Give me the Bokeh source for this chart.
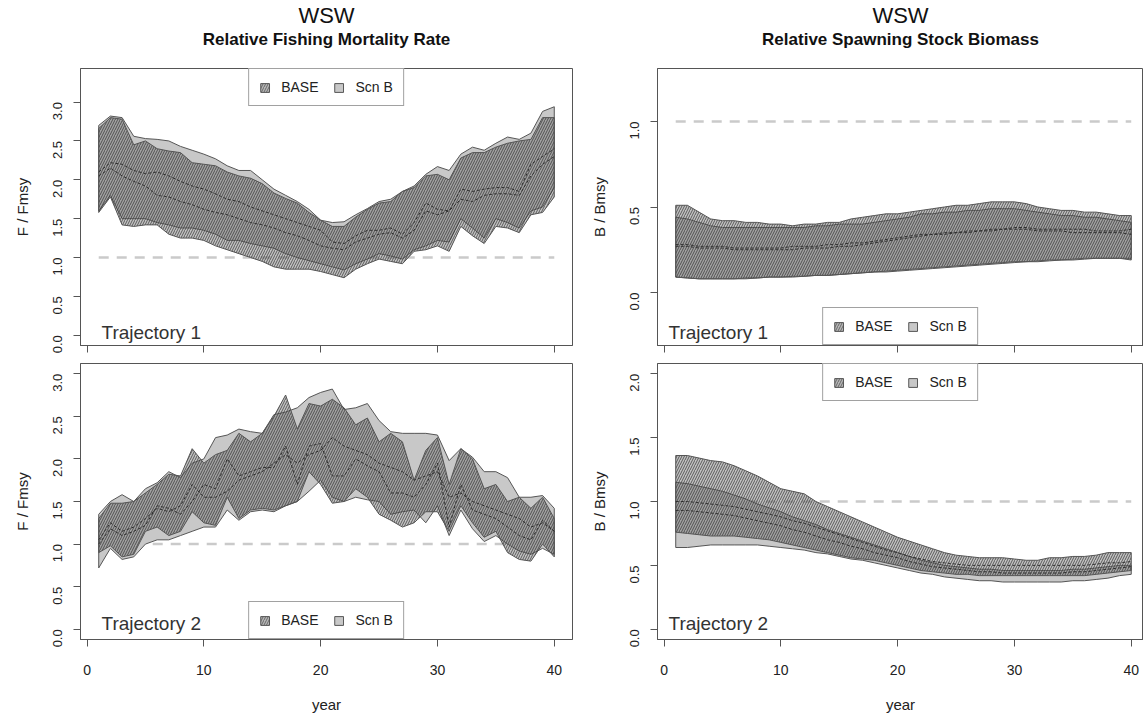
import numpy as np
from bokeh.plotting import figure
from bokeh.layouts import row, column
from bokeh.models import (Range1d, FixedTicker, Title, Label, Legend, LegendItem,
                          PrintfTickFormatter)
from bokeh.embed import file_html
from bokeh.resources import INLINE

years = list(range(1, 41))
x_ticks = [0, 10, 20, 30, 40]
ref_level = 1.0

# ---- Top-left: Relative Fishing Mortality Rate, Trajectory 1 ----
f1_scn_hi = [2.70, 2.82, 2.80, 2.56, 2.53, 2.52, 2.50, 2.43, 2.38, 2.33, 2.27, 2.18, 2.12, 2.12, 2.00, 1.88, 1.80, 1.72, 1.62, 1.48,
             1.45, 1.46, 1.55, 1.63, 1.72, 1.75, 1.85, 1.92, 2.07, 2.17, 2.12, 2.33, 2.42, 2.38, 2.47, 2.55, 2.52, 2.60, 2.88, 2.94]
f1_base_hi = [2.66, 2.80, 2.78, 2.45, 2.50, 2.40, 2.37, 2.35, 2.22, 2.20, 2.18, 2.10, 2.05, 2.02, 1.95, 1.83, 1.76, 1.70, 1.58, 1.48,
              1.40, 1.40, 1.52, 1.62, 1.70, 1.72, 1.85, 1.90, 2.05, 2.07, 2.00, 2.28, 2.35, 2.35, 2.42, 2.47, 2.50, 2.52, 2.80, 2.80]
f1_base_lo = [1.58, 1.78, 1.42, 1.40, 1.42, 1.42, 1.30, 1.25, 1.25, 1.22, 1.15, 1.10, 1.05, 1.00, 0.95, 0.88, 0.85, 0.85, 0.85, 0.82,
              0.78, 0.74, 0.85, 0.92, 0.98, 0.95, 0.92, 1.08, 1.10, 1.15, 1.08, 1.40, 1.28, 1.18, 1.40, 1.38, 1.32, 1.55, 1.58, 1.78]
f1_scn_lo = [1.60, 1.80, 1.50, 1.50, 1.50, 1.45, 1.42, 1.38, 1.38, 1.35, 1.30, 1.22, 1.22, 1.18, 1.15, 1.12, 1.05, 1.00, 0.96, 0.92,
             0.88, 0.84, 0.92, 0.98, 1.05, 1.02, 0.98, 1.10, 1.15, 1.22, 1.20, 1.50, 1.38, 1.25, 1.50, 1.45, 1.38, 1.60, 1.65, 1.90]
f1_base_med = [2.10, 2.22, 2.20, 2.12, 2.08, 2.10, 2.05, 1.98, 1.92, 1.88, 1.82, 1.75, 1.72, 1.65, 1.60, 1.55, 1.50, 1.45, 1.40, 1.35,
               1.20, 1.18, 1.28, 1.35, 1.35, 1.38, 1.30, 1.45, 1.70, 1.62, 1.60, 1.88, 1.85, 1.88, 1.90, 1.90, 1.85, 2.20, 2.30, 2.40]
f1_scn_med = [2.05, 2.15, 2.05, 1.98, 1.92, 1.80, 1.78, 1.72, 1.68, 1.62, 1.58, 1.55, 1.50, 1.45, 1.42, 1.38, 1.32, 1.28, 1.22, 1.15,
              1.12, 1.10, 1.20, 1.25, 1.30, 1.32, 1.25, 1.35, 1.60, 1.55, 1.60, 1.75, 1.72, 1.80, 1.82, 1.82, 1.80, 2.05, 2.20, 2.30]

# ---- Bottom-left: Relative Fishing Mortality Rate, Trajectory 2 ----
f2_scn_hi = [1.35, 1.50, 1.58, 1.50, 1.65, 1.72, 1.85, 1.78, 1.95, 2.00, 2.25, 2.28, 2.35, 2.32, 2.30, 2.52, 2.55, 2.60, 2.72, 2.78,
             2.82, 2.58, 2.60, 2.65, 2.45, 2.32, 2.30, 2.30, 2.30, 2.28, 1.98, 2.12, 2.02, 1.85, 1.85, 1.78, 1.55, 1.55, 1.57, 1.42]
f2_base_hi = [1.30, 1.48, 1.48, 1.50, 1.60, 1.70, 1.82, 1.80, 2.12, 1.95, 2.05, 2.10, 2.30, 2.20, 2.30, 2.50, 2.75, 2.35, 2.65, 2.62,
              2.70, 2.60, 2.40, 2.48, 2.20, 2.30, 2.20, 1.75, 2.10, 2.25, 1.70, 2.12, 2.00, 1.65, 1.70, 1.50, 1.55, 1.42, 1.55, 1.30]
f2_scn_lo = [0.72, 0.95, 0.82, 0.85, 1.00, 1.05, 1.05, 1.10, 1.15, 1.20, 1.20, 1.40, 1.28, 1.38, 1.40, 1.38, 1.45, 1.50, 1.62, 1.75,
             1.55, 1.50, 1.55, 1.52, 1.50, 1.35, 1.38, 1.40, 1.25, 1.45, 1.10, 1.40, 1.18, 1.03, 1.10, 1.00, 0.92, 0.88, 0.95, 0.88]
f2_base_lo = [0.90, 0.98, 0.85, 0.88, 1.15, 1.20, 1.10, 1.15, 1.38, 1.25, 1.22, 1.55, 1.30, 1.40, 1.42, 1.40, 1.45, 1.50, 1.85, 1.70,
              1.48, 1.50, 1.65, 1.55, 1.35, 1.28, 1.20, 1.25, 1.38, 1.38, 1.15, 1.45, 1.25, 1.08, 1.15, 0.90, 0.82, 0.80, 1.00, 0.85]
f2_base_med = [1.05, 1.25, 1.15, 1.20, 1.30, 1.42, 1.38, 1.45, 1.70, 1.55, 1.55, 1.62, 1.75, 1.80, 1.85, 1.95, 2.05, 1.95, 2.05, 2.10,
               2.25, 2.15, 2.10, 2.05, 1.95, 1.90, 1.85, 1.75, 1.80, 1.85, 1.55, 1.60, 1.50, 1.45, 1.40, 1.35, 1.30, 1.20, 1.25, 1.15]
f2_scn_med = [1.00, 1.18, 1.10, 1.15, 1.22, 1.45, 1.42, 1.35, 1.50, 1.70, 1.65, 2.00, 1.80, 1.85, 1.90, 1.90, 2.15, 1.70, 2.15, 2.18,
              1.80, 1.80, 2.00, 1.92, 1.85, 1.60, 1.60, 1.55, 1.70, 1.95, 1.20, 1.70, 1.40, 1.35, 1.30, 1.20, 1.10, 1.05, 1.28, 1.15]

# ---- Top-right: Relative Spawning Stock Biomass, Trajectory 1 ----
b1_base_hi = [0.51, 0.51, 0.47, 0.43, 0.42, 0.42, 0.41, 0.41, 0.40, 0.40, 0.39, 0.40, 0.40, 0.41, 0.41, 0.43, 0.44, 0.45, 0.46, 0.46,
              0.47, 0.48, 0.49, 0.50, 0.51, 0.51, 0.52, 0.53, 0.53, 0.53, 0.52, 0.50, 0.49, 0.48, 0.48, 0.47, 0.47, 0.46, 0.45, 0.45]
b1_scn_hi = [0.44, 0.43, 0.41, 0.39, 0.38, 0.38, 0.38, 0.38, 0.38, 0.38, 0.38, 0.38, 0.39, 0.39, 0.40, 0.40, 0.40, 0.41, 0.42, 0.43,
             0.44, 0.46, 0.46, 0.47, 0.47, 0.48, 0.48, 0.49, 0.49, 0.49, 0.48, 0.47, 0.46, 0.45, 0.45, 0.44, 0.44, 0.43, 0.42, 0.41]
b1_base_lo = [0.09, 0.085, 0.08, 0.08, 0.08, 0.08, 0.08, 0.085, 0.09, 0.09, 0.09, 0.095, 0.10, 0.10, 0.105, 0.11, 0.115, 0.12, 0.125, 0.13,
              0.135, 0.14, 0.145, 0.15, 0.155, 0.16, 0.165, 0.17, 0.175, 0.18, 0.18, 0.185, 0.19, 0.19, 0.195, 0.20, 0.20, 0.20, 0.20, 0.19]
b1_scn_lo = [0.09, 0.085, 0.08, 0.08, 0.08, 0.08, 0.085, 0.085, 0.09, 0.09, 0.095, 0.095, 0.10, 0.10, 0.105, 0.11, 0.115, 0.12, 0.12, 0.125,
             0.13, 0.135, 0.14, 0.145, 0.15, 0.155, 0.16, 0.165, 0.17, 0.175, 0.18, 0.18, 0.185, 0.19, 0.19, 0.195, 0.20, 0.20, 0.20, 0.20]
b1_base_med = [0.28, 0.28, 0.27, 0.27, 0.27, 0.26, 0.26, 0.26, 0.26, 0.26, 0.27, 0.27, 0.27, 0.28, 0.28, 0.29, 0.29, 0.30, 0.31, 0.32,
               0.33, 0.34, 0.34, 0.35, 0.35, 0.36, 0.36, 0.37, 0.37, 0.38, 0.38, 0.37, 0.37, 0.37, 0.37, 0.37, 0.36, 0.36, 0.36, 0.37]
b1_scn_med = [0.27, 0.27, 0.26, 0.26, 0.26, 0.25, 0.25, 0.25, 0.25, 0.25, 0.25, 0.26, 0.26, 0.26, 0.27, 0.27, 0.28, 0.29, 0.30, 0.31,
              0.32, 0.33, 0.34, 0.34, 0.35, 0.35, 0.36, 0.36, 0.37, 0.37, 0.37, 0.36, 0.36, 0.36, 0.35, 0.35, 0.35, 0.35, 0.35, 0.34]

# ---- Bottom-right: Relative Spawning Stock Biomass, Trajectory 2 ----
b2_base_hi = [1.36, 1.36, 1.34, 1.32, 1.31, 1.28, 1.24, 1.20, 1.15, 1.10, 1.08, 1.06, 1.00, 0.96, 0.92, 0.88, 0.84, 0.80, 0.76, 0.72,
              0.69, 0.66, 0.63, 0.60, 0.58, 0.57, 0.56, 0.56, 0.56, 0.55, 0.54, 0.54, 0.56, 0.56, 0.57, 0.57, 0.58, 0.60, 0.60, 0.60]
b2_scn_hi = [1.15, 1.14, 1.12, 1.10, 1.08, 1.05, 1.02, 0.98, 0.95, 0.92, 0.88, 0.85, 0.82, 0.78, 0.75, 0.72, 0.69, 0.66, 0.63, 0.60,
             0.57, 0.54, 0.52, 0.50, 0.49, 0.48, 0.47, 0.47, 0.46, 0.46, 0.46, 0.46, 0.46, 0.46, 0.47, 0.47, 0.48, 0.49, 0.50, 0.50]
b2_base_lo = [0.76, 0.75, 0.74, 0.73, 0.73, 0.73, 0.72, 0.71, 0.70, 0.68, 0.66, 0.64, 0.62, 0.60, 0.58, 0.56, 0.55, 0.54, 0.52, 0.50,
              0.48, 0.46, 0.45, 0.44, 0.43, 0.43, 0.42, 0.42, 0.42, 0.42, 0.42, 0.42, 0.42, 0.42, 0.42, 0.42, 0.43, 0.44, 0.45, 0.46]
b2_scn_lo = [0.64, 0.64, 0.65, 0.66, 0.66, 0.66, 0.66, 0.66, 0.65, 0.64, 0.63, 0.62, 0.60, 0.59, 0.57, 0.55, 0.54, 0.52, 0.50, 0.48,
             0.46, 0.44, 0.43, 0.41, 0.40, 0.39, 0.38, 0.38, 0.37, 0.37, 0.37, 0.37, 0.37, 0.37, 0.38, 0.38, 0.39, 0.40, 0.42, 0.43]
b2_base_med = [1.00, 1.00, 0.99, 0.98, 0.97, 0.96, 0.94, 0.92, 0.90, 0.88, 0.85, 0.83, 0.80, 0.77, 0.74, 0.71, 0.68, 0.65, 0.62, 0.60,
               0.57, 0.55, 0.53, 0.52, 0.51, 0.50, 0.50, 0.50, 0.50, 0.50, 0.50, 0.50, 0.50, 0.50, 0.50, 0.50, 0.51, 0.52, 0.52, 0.53]
b2_scn_med = [0.93, 0.93, 0.92, 0.91, 0.90, 0.89, 0.87, 0.85, 0.83, 0.81, 0.78, 0.76, 0.73, 0.70, 0.68, 0.65, 0.63, 0.60, 0.58, 0.56,
              0.53, 0.51, 0.49, 0.48, 0.47, 0.46, 0.45, 0.45, 0.44, 0.44, 0.44, 0.44, 0.44, 0.44, 0.45, 0.45, 0.46, 0.47, 0.48, 0.49]

FONT = "Liberation Sans"
EDGE = "#555555"


def panel(fw, fh, mb, yr, yticks, xr, data, traj, traj_off, leg_loc, ylab, bottom, titles):
    base_lo, base_hi, base_med, scn_lo, scn_hi, scn_med = data
    p = figure(frame_width=fw, frame_height=fh, x_range=Range1d(*xr), y_range=Range1d(*yr),
               output_backend="svg", toolbar_location=None, title=None,
               min_border_left=mb[0], min_border_right=mb[1], min_border_top=mb[2], min_border_bottom=mb[3])
    p.xgrid.visible = False
    p.ygrid.visible = False
    p.outline_line_color = EDGE
    p.outline_line_width = 1
    p.background_fill_color = "white"
    p.border_fill_color = "white"

    # reference line
    p.line([years[0], years[-1]], [ref_level, ref_level], line_color="#cacaca", line_width=2.5, line_dash="10 8")

    xs = years + years[::-1]
    scn = p.patch(xs, scn_hi + scn_lo[::-1], fill_color="#c8c8c8", line_color=EDGE, line_width=1)
    base = p.patch(xs, base_hi + base_lo[::-1], fill_color="#6e6e6e", fill_alpha=0.42,
                   hatch_pattern="/", hatch_color="#2e2e2e", hatch_alpha=0.7, hatch_scale=5, hatch_weight=1,
                   line_color=EDGE, line_width=1)
    p.line(years, base_med, line_color="#303030", line_width=1, line_dash="3 2")
    p.line(years, scn_med, line_color="#303030", line_width=1, line_dash="3 2")

    # axes
    for ax in (p.xaxis[0], p.yaxis[0]):
        ax.axis_line_color = EDGE
        ax.major_tick_line_color = EDGE
        ax.major_tick_out = 7
        ax.major_tick_in = 0
        ax.minor_tick_line_color = None
        ax.major_label_text_font = FONT
        ax.major_label_text_font_size = "13px"
        ax.major_label_text_color = "#222222"
        ax.axis_label_text_font = FONT
        ax.axis_label_text_font_size = "15px"
        ax.axis_label_text_font_style = "normal"
        ax.axis_label_text_color = "#222222"
    p.xaxis.ticker = FixedTicker(ticks=x_ticks)
    p.xaxis.formatter = PrintfTickFormatter(format="%d")
    p.yaxis.ticker = FixedTicker(ticks=yticks)
    p.yaxis.formatter = PrintfTickFormatter(format="%.1f")
    p.yaxis.major_label_orientation = np.pi / 2
    p.yaxis.major_label_standoff = 16
    p.yaxis.axis_label = ylab
    p.yaxis.axis_label_standoff = 15
    if bottom:
        p.xaxis.major_label_text_font_size = "14px"
        p.xaxis.major_label_standoff = 18
        p.xaxis.axis_label = "year"
        p.xaxis.axis_label_standoff = 18
    else:
        p.xaxis.major_label_text_font_size = "0px"
        p.xaxis.major_label_standoff = 0

    # trajectory label (bottom-left inside the frame)
    tx = xr[0] + (xr[1] - xr[0]) * traj_off[0] / fw
    ty = yr[0] + (yr[1] - yr[0]) * traj_off[1] / fh
    p.add_layout(Label(x=tx, y=ty, text=traj, text_font=FONT, text_font_size="19px",
                       text_color="#333333", text_baseline="middle", text_align="left"))

    leg = Legend(items=[LegendItem(label="BASE", renderers=[base]), LegendItem(label="Scn B", renderers=[scn])],
                 location=leg_loc, orientation="horizontal", margin=0, padding=10, spacing=15,
                 glyph_width=11, glyph_height=11, label_standoff=11,
                 label_text_font=FONT, label_text_font_size="14px", label_text_color="#222222",
                 border_line_color="#444444", border_line_width=1, background_fill_alpha=1)
    p.add_layout(leg)

    if titles:
        # spacer between frame and subtitle, then subtitle, then main title
        p.add_layout(Title(text=" ", text_font_size="1px", standoff=17), "above")
        p.add_layout(Title(text=titles[1], align="center", text_font=FONT, text_font_size="17px",
                           text_font_style="bold", text_color="#111111", standoff=0), "above")
        p.add_layout(Title(text=titles[0], align="center", text_font=FONT, text_font_size="22px",
                           text_font_style="normal", text_color="#111111", standoff=0), "above")
    return p


xr_left = (-0.56, 41.56)
xr_right = (-0.56, 41.05)

p1 = panel(492, 277, (80, 13, 67, 10), (-0.132, 3.432), [0, 0.5, 1, 1.5, 2, 2.5, 3], xr_left,
           (f1_base_lo, f1_base_hi, f1_base_med, f1_scn_lo, f1_scn_hi, f1_scn_med),
           "Trajectory 1", (21, 13), "top_center", "F / Fmsy", False, ("WSW", "Relative Fishing Mortality Rate"))
p2 = panel(486, 277, (72, 0, 67, 10), (-0.31, 1.31), [0, 0.5, 1], xr_right,
           (b1_base_lo, b1_base_hi, b1_base_med, b1_scn_lo, b1_scn_hi, b1_scn_med),
           "Trajectory 1", (11, 13), "bottom_center", "B / Bmsy", False, ("WSW", "Relative Spawning Stock Biomass"))
p3 = panel(492, 276, (80, 13, 8, 80), (-0.12, 3.12), [0, 0.5, 1, 1.5, 2, 2.5, 3], xr_left,
           (f2_base_lo, f2_base_hi, f2_base_med, f2_scn_lo, f2_scn_hi, f2_scn_med),
           "Trajectory 2", (21, 16), "bottom_center", "F / Fmsy", True, None)
p4 = panel(486, 276, (72, 0, 8, 80), (-0.08, 2.08), [0, 0.5, 1, 1.5, 2], xr_right,
           (b2_base_lo, b2_base_hi, b2_base_med, b2_scn_lo, b2_scn_hi, b2_scn_med),
           "Trajectory 2", (11, 16), "top_center", "B / Bmsy", True, None)

layout = column(row(p1, p2), row(p3, p4))
open("out.html", "w").write(file_html(layout, INLINE))
